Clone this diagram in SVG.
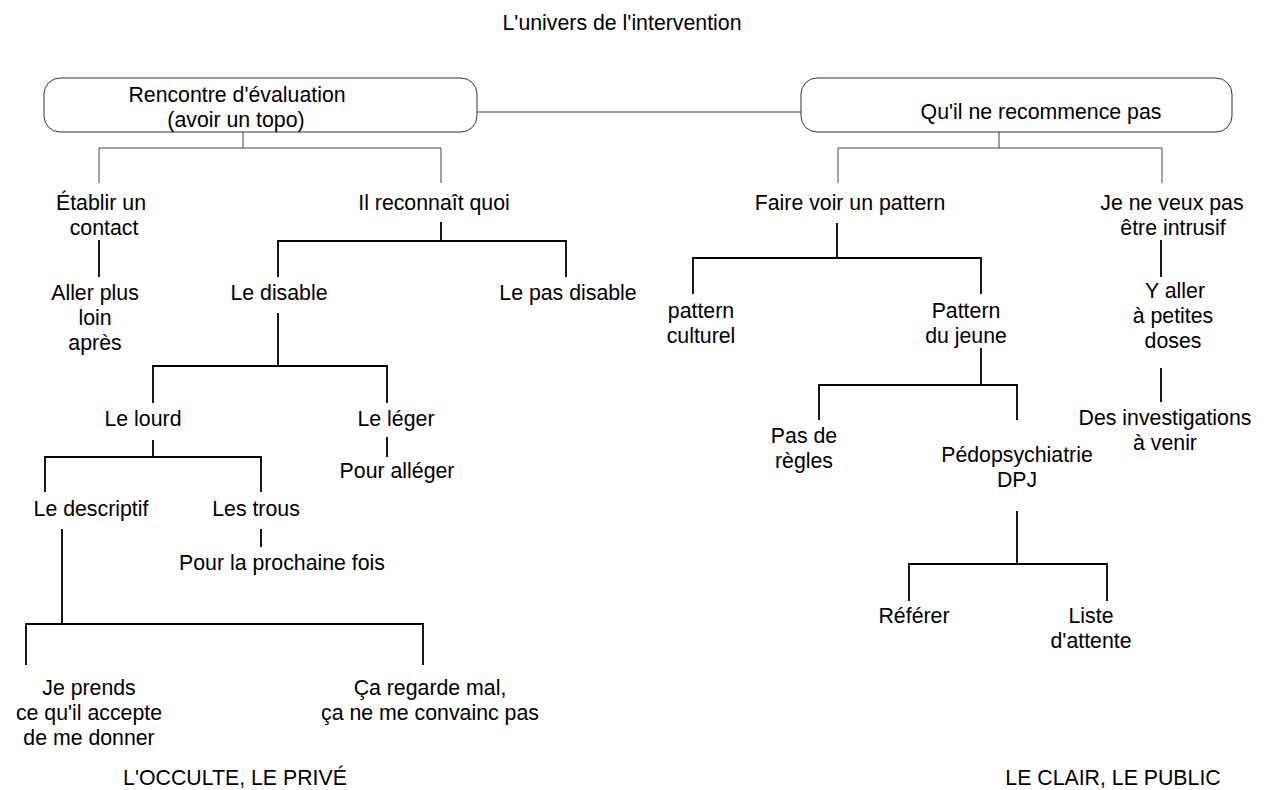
<svg xmlns="http://www.w3.org/2000/svg" width="1268" height="790" viewBox="0 0 1268 790">
<style>
text{font-family:"Liberation Sans",Arial,sans-serif;font-size:21.3px;fill:#000;text-anchor:middle}
.box{fill:#fff;stroke:#333;stroke-width:1}
.thin{fill:none;stroke:#444;stroke-width:1}
.thick{fill:none;stroke:#000;stroke-width:1.8}
</style>
<rect width="1268" height="790" fill="#fff"/>
<g id="title"><text x="622" y="30">L'univers de l'intervention</text></g>
<g id="connectors">
<path class="thin" d="M477 112H801"/>
<path class="thin" d="M243 132V148M99 183V148H441V183"/>
<path class="thin" d="M999 132V148M838 183V148H1162V183"/>
<path class="thick" d="M99 240V277"/>
<path class="thick" d="M441 222V241M278 277V241H566V277"/>
<path class="thick" d="M278 313V366M153 403V366H387V403"/>
<path class="thick" d="M387 437V457"/>
<path class="thick" d="M153 440V457M45 492V457H261V492"/>
<path class="thick" d="M261 529V547"/>
<path class="thick" d="M62 529V624M26 665V624H423V665"/>
<path class="thick" d="M837 223V258M693 294V258H981V294"/>
<path class="thick" d="M981 348V385M819 420V385H1017V420"/>
<path class="thick" d="M1017 511V564M909 601V564H1107V601"/>
<path class="thick" d="M1161 240V277"/>
<path class="thick" d="M1161 368V402"/>
</g>
<g id="n-rencontre"><rect class="box" x="44" y="78" width="433" height="54" rx="16"/><text x="237" y="102">Rencontre d'évaluation</text><text x="236" y="127">(avoir un topo)</text></g>
<g id="n-recommence"><rect class="box" x="801" y="78" width="431" height="54" rx="16"/><text x="1041" y="119">Qu'il ne recommence pas</text></g>
<g id="n-etablir"><text x="101" y="210">Établir un</text><text x="104" y="235">contact</text></g>
<g id="n-aller"><text x="95" y="300">Aller plus</text><text x="95" y="325">loin</text><text x="95" y="350">après</text></g>
<g id="n-reconnait"><text x="434" y="210">Il reconnaît quoi</text></g>
<g id="n-disable"><text x="279" y="300">Le disable</text></g>
<g id="n-pasdisable"><text x="568" y="300">Le pas disable</text></g>
<g id="n-lourd"><text x="143" y="426">Le lourd</text></g>
<g id="n-leger"><text x="396" y="426">Le léger</text></g>
<g id="n-alleger"><text x="397" y="478">Pour alléger</text></g>
<g id="n-descriptif"><text x="91" y="516">Le descriptif</text></g>
<g id="n-trous"><text x="256" y="516">Les trous</text></g>
<g id="n-prochaine"><text x="282" y="570">Pour la prochaine fois</text></g>
<g id="n-prends"><text x="89" y="695">Je prends</text><text x="89" y="720">ce qu'il accepte</text><text x="89" y="745">de me donner</text></g>
<g id="n-regarde"><text x="430" y="695">Ça regarde mal,</text><text x="430" y="720">ça ne me convainc pas</text></g>
<g id="n-fairevoir"><text x="850" y="210">Faire voir un pattern</text></g>
<g id="n-culturel"><text x="701" y="318">pattern</text><text x="701" y="343">culturel</text></g>
<g id="n-jeune"><text x="966" y="318">Pattern</text><text x="966" y="343">du jeune</text></g>
<g id="n-regles"><text x="804" y="443">Pas de</text><text x="804" y="468">règles</text></g>
<g id="n-pedo"><text x="1017" y="462">Pédopsychiatrie</text><text x="1017" y="487">DPJ</text></g>
<g id="n-referer"><text x="914" y="623">Référer</text></g>
<g id="n-liste"><text x="1091" y="623">Liste</text><text x="1091" y="648">d'attente</text></g>
<g id="n-intrusif"><text x="1172" y="210">Je ne veux pas</text><text x="1173" y="235">être intrusif</text></g>
<g id="n-doses"><text x="1175" y="298">Y aller</text><text x="1173" y="323">à petites</text><text x="1173" y="348">doses</text></g>
<g id="n-investigations"><text x="1165" y="425">Des investigations</text><text x="1165" y="450">à venir</text></g>
<g id="label-left"><text x="235" y="785">L'OCCULTE, LE PRIVÉ</text></g>
<g id="label-right"><text x="1113" y="785">LE CLAIR, LE PUBLIC</text></g>
</svg>
